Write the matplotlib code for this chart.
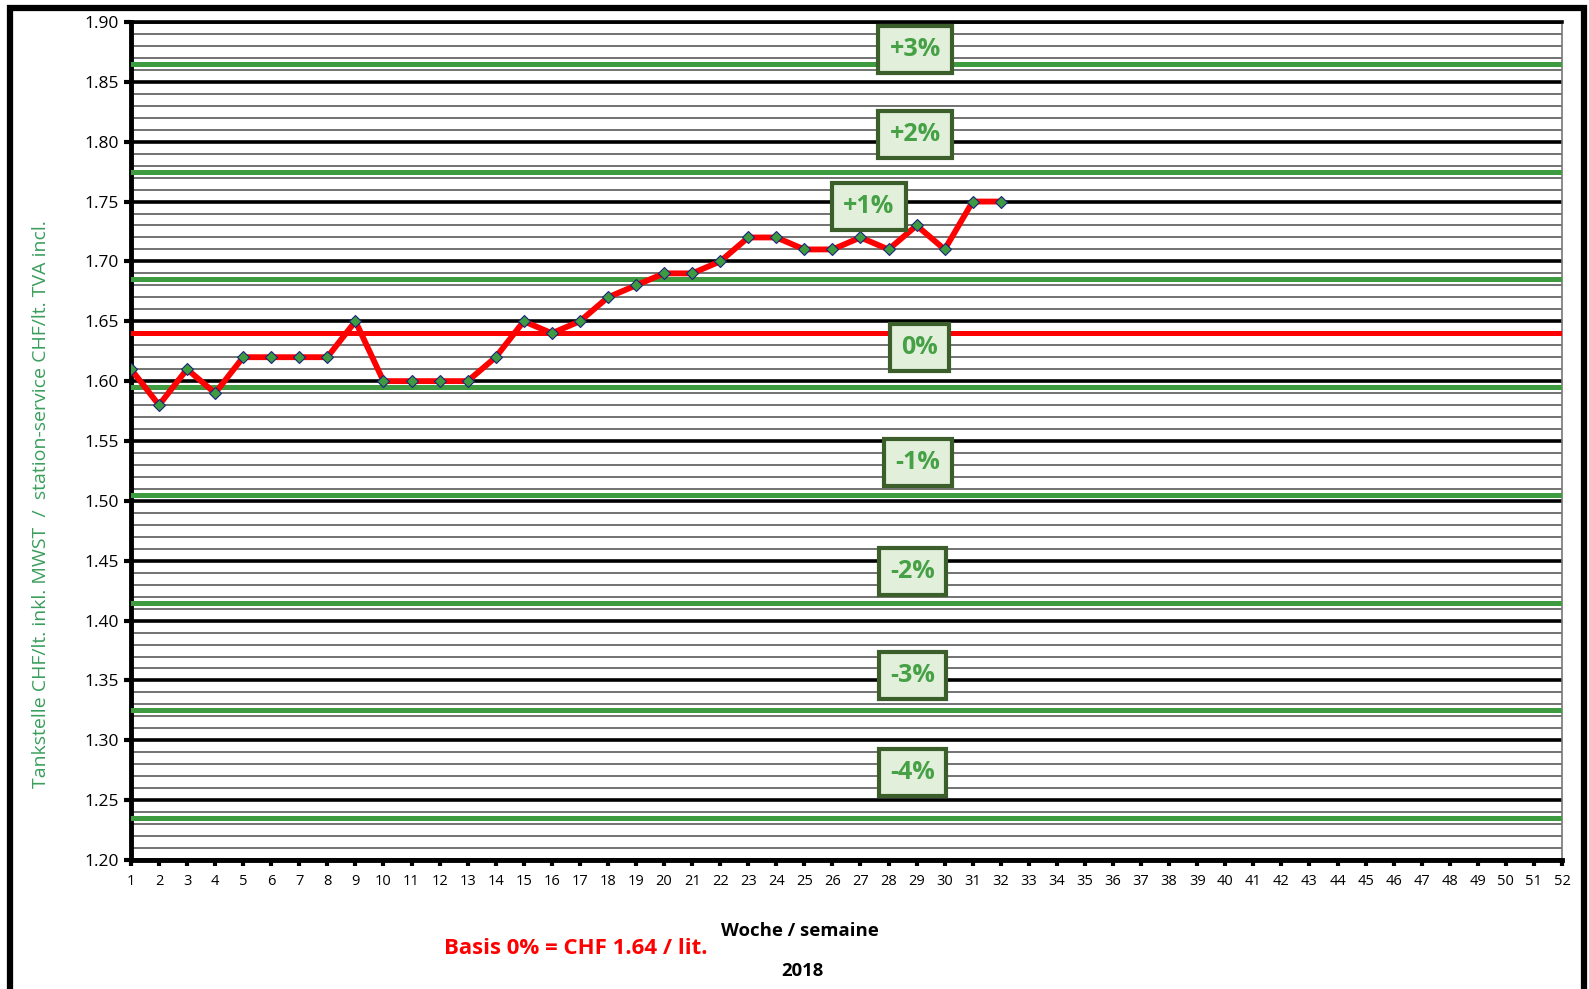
import matplotlib.pyplot as plt
import matplotlib.patches as patches
from matplotlib.ticker import MultipleLocator, FixedLocator

# ================= data =================
weeks = list(range(1, 33))
prices = [1.61, 1.58, 1.61, 1.59, 1.62, 1.62, 1.62, 1.62, 1.65, 1.60,
          1.60, 1.60, 1.60, 1.62, 1.65, 1.64, 1.65, 1.67, 1.68, 1.69,
          1.69, 1.70, 1.72, 1.72, 1.71, 1.71, 1.72, 1.71, 1.73, 1.71,
          1.75, 1.75]

basis = 1.64
band_lines = [1.865, 1.775, 1.685, 1.595, 1.505, 1.415, 1.325, 1.235]
band_labels = ["+3%", "+2%", "+1%", "0%", "-1%", "-2%", "-3%", "-4%"]
label_x = [28.95, 28.95, 27.3, 29.1, 29.05, 28.85, 28.85, 28.85]
label_y = [1.877, 1.806, 1.746, 1.628, 1.532, 1.441, 1.354, 1.273]
month_weeks = [1, 5, 9, 13, 18, 23, 27, 31, 36, 40, 45, 49, 52]
# =========================================

plt.rcParams['font.family'] = ['Open Sans', 'DejaVu Sans']

GREEN = '#3f9b40'
fig = plt.figure(figsize=(15.89, 9.89), dpi=100)
ax = fig.add_axes([0.0824, 0.1304, 0.9006, 0.8474])

ax.set_xlim(1, 52)
ax.set_ylim(1.20, 1.90)

# grid
ax.yaxis.set_major_locator(MultipleLocator(0.05))
ax.yaxis.set_minor_locator(MultipleLocator(0.01))
ax.xaxis.set_major_locator(MultipleLocator(1))
ax.xaxis.set_minor_locator(FixedLocator(month_weeks))
ax.grid(axis='y', which='minor', color='#5a5a5a', lw=1.2, zorder=0)
ax.grid(axis='y', which='major', color='black', lw=2.6, zorder=1)
ax.grid(axis='x', which='minor', color='#222222', lw=1.0, zorder=1)
ax.set_axisbelow(True)

ax.tick_params(axis='y', which='major', length=5, width=3, labelsize=12.5, pad=4)
ax.tick_params(axis='x', which='major', length=4, width=3, labelsize=10.5, pad=6)
ax.tick_params(which='minor', length=0)
ax.yaxis.set_major_formatter(plt.FuncFormatter(lambda v, p: f'{v:.2f}'))

for side in ['left', 'bottom']:
    ax.spines[side].set_linewidth(3.5)
ax.spines['top'].set_linewidth(2.6)
ax.spines['right'].set_linewidth(1.2)
ax.spines['right'].set_color('#777777')

# band lines
for y in band_lines:
    ax.axhline(y, color=GREEN, lw=3.6, zorder=3)
ax.axhline(basis, color='#ff0000', lw=3.6, zorder=3)

# price line
ax.plot(weeks, prices, color='#ff0000', lw=4.2, zorder=4,
        marker='D', markersize=6.5, markerfacecolor=GREEN,
        markeredgecolor='#1a237e', markeredgewidth=0.8)

# labels
for lx, ly, txt in zip(label_x, label_y, band_labels):
    ax.text(lx, ly, txt, ha='center', va='center', fontsize=18,
            fontweight='bold', color='#46a046', zorder=6,
            bbox=dict(boxstyle='square,pad=0.45', facecolor='#e2efda',
                      edgecolor='#3b5e2b', linewidth=3))

fig.text(41 / 1589, 1 - 504 / 989,
         'Tankstelle CHF/lt. inkl. MWST  /  station-service CHF/lt. TVA incl.',
         rotation=90, ha='center', va='center', color='#3a9e5c', fontsize=14)

fig.text(800 / 1589, 1 - 931 / 989, 'Woche / semaine', ha='center', va='center',
         fontsize=13.3, fontweight='bold')
fig.text(802 / 1589, 1 - 971 / 989, '2018', ha='center', va='center',
         fontsize=13.3, fontweight='bold')
fig.text(576 / 1589, 1 - 949 / 989, 'Basis 0% = CHF 1.64 / lit.', ha='center',
         va='center', fontsize=16, fontweight='bold', color='#ff0000')

# outer frame
frame = patches.Rectangle((9.5 / 1589, -0.05), (1583.5 - 9.5) / 1589,
                          1.05 - 7.5 / 989, transform=fig.transFigure,
                          fill=False, edgecolor='black', lw=4.5, clip_on=False)
fig.patches.append(frame)

plt.savefig('out.png', dpi=100)
